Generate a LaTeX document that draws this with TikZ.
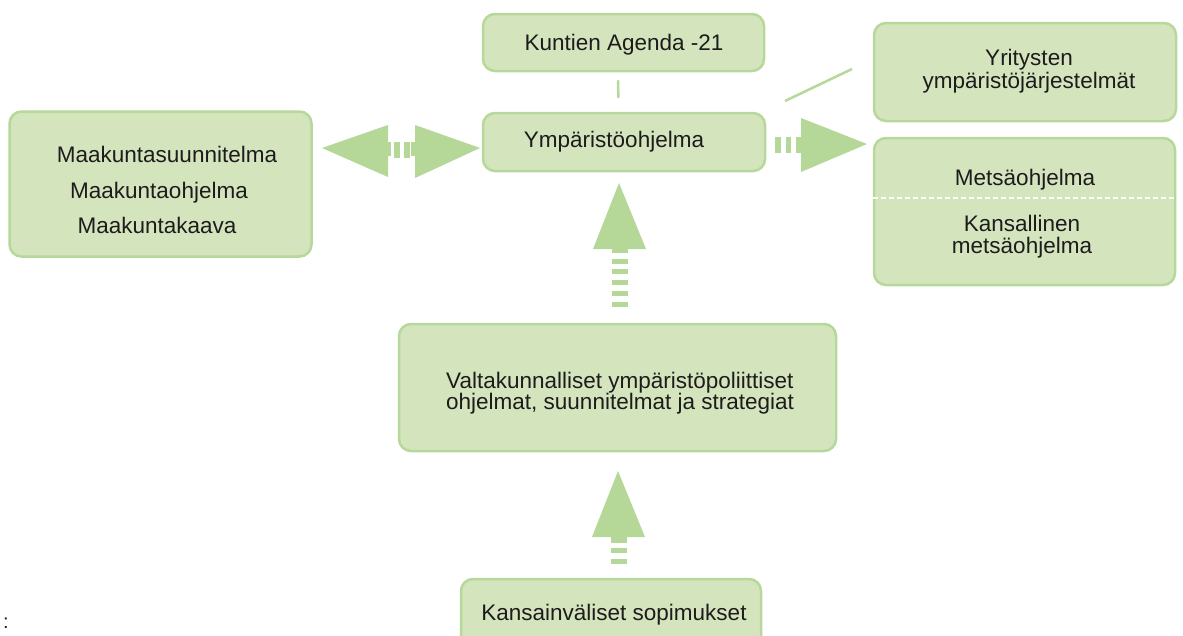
\documentclass[tikz,border=0pt]{standalone}
\usepackage{fontspec}
\setmainfont{Liberation Sans}
\usetikzlibrary{calc}
\definecolor{boxfill}{RGB}{212,229,190}
\definecolor{boxline}{RGB}{182,216,154}
\definecolor{arrowfill}{RGB}{181,216,152}
\definecolor{txt}{RGB}{30,27,28}
\begin{document}
\begin{tikzpicture}[x=1pt,y=-1pt,
  box/.style={draw=boxline, fill=boxfill, line width=2.5pt, rounded corners=12pt, inner sep=0pt},
  lbl/.style={text=txt, font=\fontsize{22.5}{23}\selectfont, inner sep=0pt, anchor=base},
  lblw/.style={lbl, anchor=base west},
  blockarrow/.style={fill=arrowfill, draw=none},
  thinline/.style={draw=boxline, line width=2.5pt},
  sepline/.style={draw=white, line width=2pt, dash pattern=on 5pt off 3pt}]
\clip (0,0) rectangle (1183,635);
\fill[white] (0,0) rectangle (1183,635);

% boxes
\node[box, minimum width=302pt, minimum height=145pt] (maak) at (160.5,184) {};
\node[box, minimum width=281pt, minimum height=57pt] (agenda) at (623.5,42.5) {};
\node[box, minimum width=282pt, minimum height=58pt] (ymp) at (624,142) {};
\node[box, minimum width=302pt, minimum height=98pt] (yrit) at (1025,72) {};
\node[box, minimum width=301pt, minimum height=147pt] (metsa) at (1024.5,211.5) {};
\node[box, minimum width=437pt, minimum height=127pt] (valt) at (617.5,387.5) {};
\node[box, minimum width=300pt, minimum height=120pt] (kans) at (611,639) {};

% texts
\node[lbl] (t1) at (167,162) {Maakuntasuunnitelma};
\node[lbl] (t2) at (159,198) {Maakuntaohjelma};
\node[lbl] (t3) at (157,233) {Maakuntakaava};
\node[lbl] (t4) at (624,50) {Kuntien Agenda -21};
\node[lbl] (t5) at (614,147) {Ympäristöohjelma};
\node[lbl] (t6) at (1029,65) {Yritysten};
\node[lbl] (t7) at (1029,88) {ympäristöjärjestelmät};
\node[lbl] (t8) at (1025,185) {Metsäohjelma};
\node[lbl] (t9) at (1022,231) {Kansallinen};
\node[lbl] (t10) at (1022,253) {metsäohjelma};
\node[lblw] (t11) at (446,388) {Valtakunnalliset ympäristöpoliittiset};
\node[lblw] (t12) at (446,409) {ohjelmat, suunnitelmat ja strategiat};
\node[lbl] (t13) at (614,620) {Kansainväliset sopimukset};
\node[text=txt, font=\fontsize{20}{20}\selectfont, inner sep=0pt, anchor=base] (colon) at (6,628) {:};

% dashed separator in metsa box
\coordinate (dl) at (0,198);
\draw[sepline] (metsa.west |- dl) -- (metsa.east |- dl);

% thin connectors
\draw[thinline, shorten <=8pt, shorten >=14pt] ([xshift=-5.5pt]agenda.south) -- ([xshift=-5.5pt]ymp.north);
\coordinate (d1) at (785,101);
\coordinate (d2) at (852,69);
\draw[thinline] (d1) -- (d2);

% left double arrow
\fill[blockarrow] (322,148) -- (388,125) -- (388,177) -- cycle;
\fill[blockarrow] (388,142) rectangle (391,156);
\fill[blockarrow] (394,142) rectangle (400,158);
\fill[blockarrow] (404,142) rectangle (410,158);
\fill[blockarrow] (411,142) rectangle (415,156);
\fill[blockarrow] (480,148) -- (415,125) -- (415,178) -- cycle;

% right arrow
\fill[blockarrow] (775,137) rectangle (781,153);
\fill[blockarrow] (786,137) rectangle (791,153);
\fill[blockarrow] (796,137) rectangle (801,153);
\fill[blockarrow] (867,144) -- (801,118) -- (801,172) -- cycle;

% up arrow 1
\fill[blockarrow] (619,183) -- (593,249) -- (646,249) -- cycle;
\fill[blockarrow] (612,249) rectangle (628,253);
\foreach \yy in {259,269,280,291,302}
  \fill[blockarrow] (612,\yy) rectangle (628,\yy+5);

% up arrow 2
\fill[blockarrow] (618,471) -- (592,537) -- (645,537) -- cycle;
\fill[blockarrow] (611,537) rectangle (627,543);
\fill[blockarrow] (611,548) rectangle (627,553);
\fill[blockarrow] (611,559) rectangle (627,564);
\end{tikzpicture}
\end{document}
